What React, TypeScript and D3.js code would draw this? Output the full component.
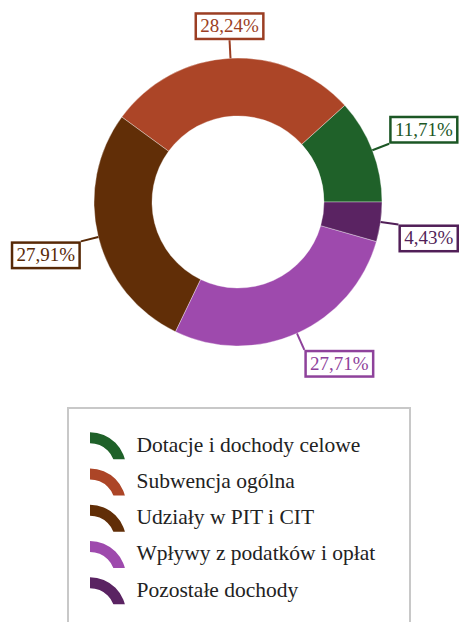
import { useEffect, useRef } from 'react';
import * as d3 from 'd3';

const categories = [
  'Dotacje i dochody celowe',
  'Subwencja ogólna',
  'Udziały w PIT i CIT',
  'Wpływy z podatków i opłat',
  'Pozostałe dochody'
];
const shares = [11.71, 28.24, 27.91, 27.71, 4.43];
const colors = ['#1f6129', '#ac4527', '#612e07', '#9e4aad', '#5a2362'];

const W = 459;
const H = 622;
const FONT = "'Liberation Serif', 'Times New Roman', Times, serif";

function fmt(v: number) {
  return v.toFixed(2).replace('.', ',') + '%';
}

export default function App() {
  const ref = useRef<SVGSVGElement | null>(null);

  useEffect(() => {
    const svgEl = ref.current;
    if (!svgEl) return;
    const svg = d3.select(svgEl);
    svg.selectAll('*').remove();

    const cx = 238;
    const cy = 202;
    const outerR = 144;
    const innerR = 86;
    const labelR = 162;

    // pie runs counter-clockwise from 3 o'clock
    const pie = d3
      .pie<number>()
      .sort(null)
      .value((d) => d)
      .startAngle(Math.PI / 2)
      .endAngle(Math.PI / 2 - 2 * Math.PI);
    const arcs = pie(shares);
    const arc = d3.arc<d3.PieArcDatum<number>>().innerRadius(innerR).outerRadius(outerR);

    const chart = svg.append('g').attr('transform', `translate(${cx},${cy})`);

    chart
      .selectAll('path.slice')
      .data(arcs)
      .join('path')
      .attr('class', 'slice')
      .attr('d', arc)
      .attr('fill', (_, i) => colors[i])
      .attr('stroke', 'rgba(255,255,255,0.35)')
      .attr('stroke-width', 1);

    // labels
    arcs.forEach((a, i) => {
      const mid = (a.startAngle + a.endAngle) / 2;
      const s = Math.sin(mid);
      const c = Math.cos(mid);
      const x0 = outerR * s;
      const y0 = -outerR * c;
      const x1 = labelR * s;
      const y1 = -labelR * c;
      const lc = d3.color(colors[i])!.darker(0.3).formatHex();

      chart
        .append('line')
        .attr('x1', x0)
        .attr('y1', y0)
        .attr('x2', x1)
        .attr('y2', y1)
        .attr('stroke', lc)
        .attr('stroke-width', 2);

      const g = chart.append('g');
      const txt = g
        .append('text')
        .style('font-family', FONT)
        .style('font-size', '19px')
        .attr('fill', lc)
        .text(fmt(shares[i]));
      const tw = (txt.node() as SVGTextElement).getComputedTextLength();
      const bw = tw + 9;
      const bh = 25.5;
      const sw = 2.5;
      const ow = bw + sw;
      const oh = bh + sw;

      let left: number;
      if (Math.abs(s) < 0.3) left = x1 - ow / 2;
      else if (s > 0) left = x1;
      else left = x1 - ow;
      const top = c > 0 ? y1 - oh : y1;

      g.insert('rect', 'text')
        .attr('x', left + sw / 2)
        .attr('y', top + sw / 2)
        .attr('width', bw)
        .attr('height', bh)
        .attr('fill', '#fff')
        .attr('stroke', lc)
        .attr('stroke-width', sw);
      txt
        .attr('x', left + ow / 2)
        .attr('y', top + oh / 2 + 6)
        .attr('text-anchor', 'middle');
    });

    // legend
    const legend = svg.append('g');
    legend
      .append('rect')
      .attr('x', 68)
      .attr('y', 408)
      .attr('width', 342)
      .attr('height', 260)
      .attr('fill', '#fff')
      .attr('stroke', '#c8c8c8')
      .attr('stroke-width', 2);

    const rowY = d3.scaleLinear().domain([0, 1]).range([451.7, 487.95]);
    const iconArc = d3
      .arc()
      .innerRadius(25)
      .outerRadius(36)
      .startAngle(0)
      .endAngle(Math.PI / 2);

    const defs = svg.append('defs');
    defs
      .append('clipPath')
      .attr('id', 'icon-clip')
      .append('rect')
      .attr('x', -5)
      .attr('y', -45)
      .attr('width', 50)
      .attr('height', 36);

    categories.forEach((name, i) => {
      const by = rowY(i);
      legend
        .append('g')
        .attr('transform', `translate(90,${by + 16.5})`)
        .append('path')
        .attr('d', iconArc({} as any) as string)
        .attr('fill', colors[i])
        .attr('clip-path', 'url(#icon-clip)');
      legend
        .append('text')
        .attr('x', 136.5)
        .attr('y', by)
        .style('font-family', FONT)
        .style('font-size', '21.5px')
        .attr('fill', '#222')
        .text(name);
    });
  }, []);

  return (
    <svg
      ref={ref}
      width={W}
      height={H}
      style={{ position: 'absolute', left: 0, top: 0, background: '#fff' }}
    />
  );
}
